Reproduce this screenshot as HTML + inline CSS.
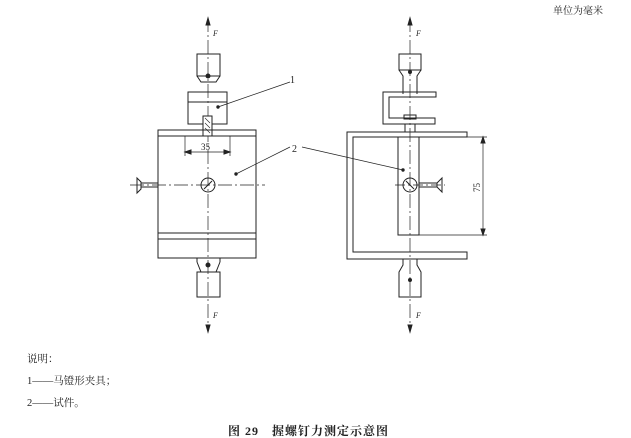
<!DOCTYPE html>
<html><head><meta charset="utf-8"><style>
html,body{margin:0;padding:0;background:#fff;}
svg{display:block}
text{font-family:"Liberation Serif","Noto Serif CJK SC",serif;fill:#222}
</style></head><body>
<svg width="631" height="438" viewBox="0 0 631 438" xmlns="http://www.w3.org/2000/svg">
<defs><marker id="a" markerWidth="6" markerHeight="6" refX="3" refY="0" orient="auto" markerUnits="userSpaceOnUse"><path d="M0,0 L3,-0 " /></marker></defs>
<text x="553" y="14" font-size="10">单位为毫米</text>
<g stroke="#222" fill="none" stroke-width="1">
<!-- LEFT -->
<line x1="208" y1="18" x2="208" y2="332" stroke-dasharray="14,3,2,3" stroke-width="0.7"/>
<path d="M208,18 l-2,7 h4z" fill="#222"/>
<path d="M208,332 l-2,-7 h4z" fill="#222"/>
<rect x="197" y="54" width="23" height="22"/>
<path d="M197,76 l4,6 h15 l4,-6"/>
<circle cx="208" cy="76" r="2" fill="#222"/>
<rect x="188" y="92" width="39" height="32"/>
<line x1="188" y1="102" x2="227" y2="102"/>
<rect x="203" y="116" width="9" height="20" fill="#fff"/>
<path d="M205,118 l5,5 M205,123 l5,5 M205,128 l5,5" stroke-width="0.6"/>
<rect x="158" y="130" width="98" height="128"/>
<line x1="158" y1="136" x2="256" y2="136"/>
<line x1="158" y1="233" x2="256" y2="233"/>
<line x1="158" y1="239" x2="256" y2="239"/>
<line x1="185" y1="136" x2="185" y2="156" stroke-width="0.7"/>
<line x1="230" y1="136" x2="230" y2="156" stroke-width="0.7"/>
<line x1="185" y1="152" x2="230" y2="152" stroke-width="0.7"/>
<path d="M185,152 l6,-2 v4z M230,152 l-6,-2 v4z" fill="#222"/>
<line x1="130" y1="185" x2="265" y2="185" stroke-dasharray="14,3,2,3" stroke-width="0.7"/>
<circle cx="208" cy="185" r="7"/>
<line x1="204" y1="189" x2="212" y2="181"/>
<path d="M137,178 l4,4 v7 l-4,4 z"/>
<rect x="141" y="183" width="17" height="4"/>
<circle cx="236" cy="174" r="1.2" fill="#222"/>
<rect x="197" y="272" width="23" height="25"/>
<path d="M197,262 l4,10 h15 l4,-10"/>
<line x1="197" y1="258" x2="197" y2="262"/><line x1="220" y1="258" x2="220" y2="262"/>
<circle cx="208" cy="265" r="2" fill="#222"/>
<line x1="218" y1="107" x2="290" y2="82" stroke-width="0.7"/>
<circle cx="218" cy="107" r="1.2" fill="#222"/>
<line x1="236" y1="174" x2="290" y2="147" stroke-width="0.7"/>
<line x1="302" y1="147" x2="403" y2="170" stroke-width="0.7"/>
<!-- RIGHT -->
<line x1="410" y1="18" x2="410" y2="332" stroke-dasharray="14,3,2,3" stroke-width="0.7"/>
<path d="M410,18 l-2,7 h4z" fill="#222"/>
<path d="M410,332 l-2,-7 h4z" fill="#222"/>
<rect x="399" y="54" width="22" height="16"/>
<path d="M399,70 l4,6 v18 M421,70 l-4,6 v18"/>
<circle cx="410" cy="72" r="1.5" fill="#222"/>
<path d="M436,92 H383 V124 H435 V118 H389 V97 H436 Z"/>
<rect x="404" y="115" width="12" height="4"/>
<rect x="405" y="124" width="10" height="8"/>
<path d="M467,132 H347 V259 H467 V252 H353 V137 H467 Z"/>
<rect x="398" y="137" width="21" height="98"/>
<path d="M403,259 v6 l-4,7 v25 h22 v-25 l-4,-7 v-6"/>
<circle cx="410" cy="280" r="1.5" fill="#222"/>
<line x1="395" y1="185" x2="445" y2="185" stroke-dasharray="10,3,2,3" stroke-width="0.7"/>
<circle cx="410" cy="185" r="7"/>
<line x1="406" y1="181" x2="414" y2="189"/>
<rect x="419" y="183" width="18" height="4"/>
<path d="M437,183 l5,-5 v14 l-5,-5"/>
<circle cx="403" cy="170" r="1.2" fill="#222"/>
<line x1="419" y1="137" x2="487" y2="137" stroke-width="0.7"/>
<line x1="419" y1="235" x2="487" y2="235" stroke-width="0.7"/>
<line x1="483" y1="137" x2="483" y2="235" stroke-width="0.7"/>
<path d="M483,137 l-2,6 h4z M483,235 l-2,-6 h4z" fill="#222"/>
</g>
<text x="213" y="36" font-size="8" font-style="italic">F</text>
<text x="213" y="318" font-size="8" font-style="italic">F</text>
<text x="416" y="36" font-size="8" font-style="italic">F</text>
<text x="416" y="318" font-size="8" font-style="italic">F</text>
<text x="201" y="150" font-size="9">35</text>
<text x="290" y="83" font-size="10">1</text>
<text x="292" y="152" font-size="10">2</text>
<text x="0" y="0" font-size="9" transform="translate(480,192) rotate(-90)">75</text>
<g font-size="10.5">
<text x="27" y="362">说明：</text>
<text x="27" y="384">1——马镫形夹具；</text>
<text x="27" y="406">2——试件。</text>
</g>
<text x="228" y="435" font-size="12" font-weight="bold" font-family="Liberation Sans,'Noto Sans CJK SC',sans-serif" letter-spacing="1">图 29　握螺钉力测定示意图</text>
</svg>
</body></html>
